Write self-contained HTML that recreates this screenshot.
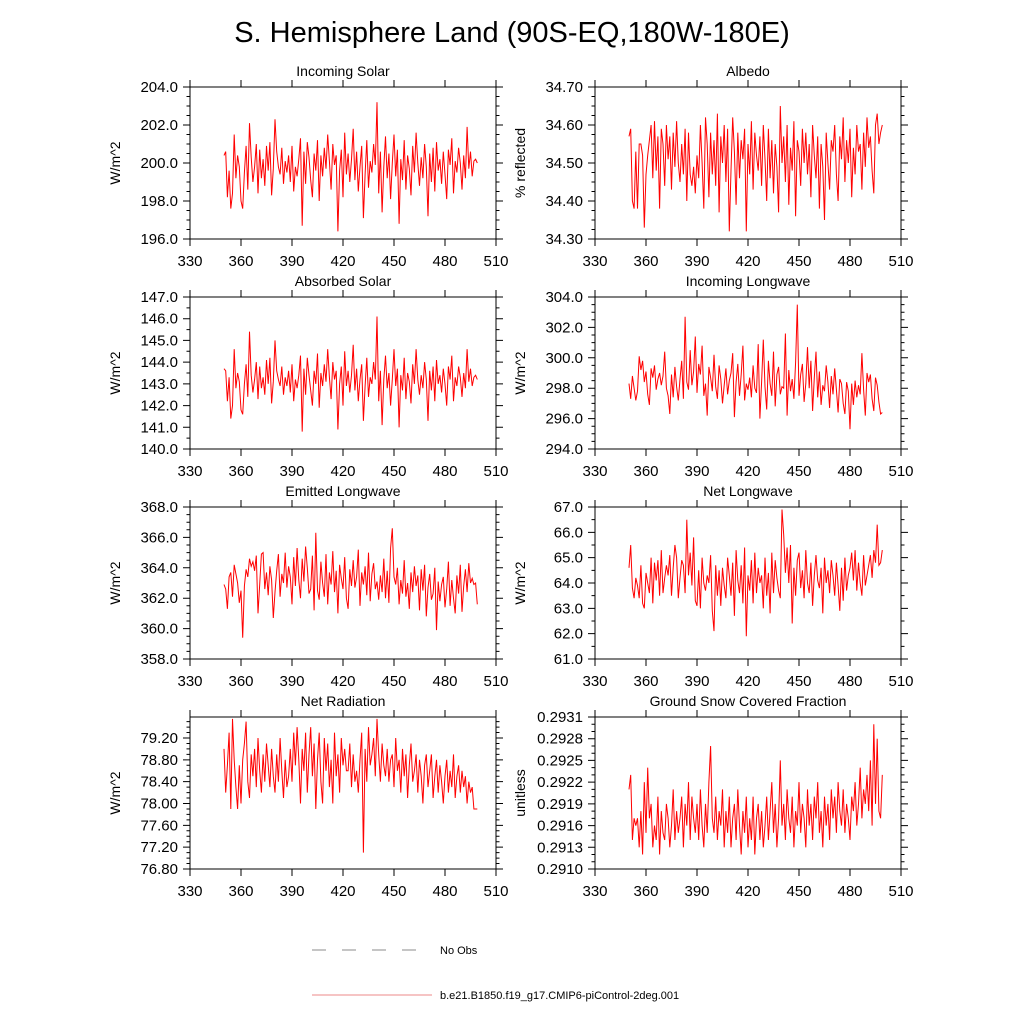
<!DOCTYPE html>
<html><head><meta charset="utf-8"><style>
body{margin:0;background:#fff}
svg text{font-family:"Liberation Sans",sans-serif;fill:#000}
</style></head><body>
<svg id="c" width="1024" height="1024" viewBox="0 0 1024 1024">
<text x="512" y="42" font-size="29" text-anchor="middle">S. Hemisphere Land (90S-EQ,180W-180E)</text>
<g>
<line x1="312" y1="950" x2="432" y2="950" stroke="#666" stroke-width="0.8" stroke-dasharray="14,16"/>
<text x="440" y="954" font-size="11">No Obs</text>
<line x1="312" y1="995" x2="432" y2="995" stroke="#e88" stroke-width="1"/>
<text x="440" y="999" font-size="11">b.e21.B1850.f19_g17.CMIP6-piControl-2deg.001</text>
</g>
</svg>
<script>
const years0 = 350;
const xTicks = [330,360,390,420,450,480,510];
const incomingSolar = [200.4,200.6,198.2,199.6,197.6,198.4,201.5,199.2,200.4,199.8,198.0,197.6,199.5,200.9,198.6,202.1,200.3,199.0,199.8,201.0,198.4,200.7,199.2,200.2,198.8,200.9,199.6,201.1,198.3,199.7,202.3,200.6,199.8,199.4,200.8,198.9,200.1,199.5,200.4,199.0,200.9,198.5,199.8,199.3,200.2,201.3,196.7,200.6,198.9,201.1,200.3,199.1,198.2,200.5,199.6,201.2,198.0,200.4,199.3,200.8,199.7,201.5,200.1,198.6,201.0,199.9,200.4,196.4,199.6,200.7,198.2,201.6,199.4,200.5,199.0,200.2,201.8,199.1,200.6,198.5,199.8,200.9,197.1,199.4,201.2,198.7,200.1,199.5,201.0,199.9,203.2,198.4,200.6,197.4,199.8,201.4,199.2,200.5,198.1,200.0,201.5,199.3,200.7,196.8,200.2,199.1,201.2,198.6,200.4,199.7,198.3,200.9,199.5,201.6,200.0,198.8,200.3,199.2,201.0,199.8,197.2,200.5,199.0,200.8,198.5,201.1,199.6,200.2,198.9,200.6,199.4,198.1,200.7,199.9,201.3,198.4,200.1,199.5,200.8,200.0,198.6,200.4,199.2,201.9,199.7,200.6,199.3,200.1,200.2,200.0];
const albedo = [34.57,34.59,34.40,34.38,34.53,34.38,34.55,34.55,34.52,34.33,34.47,34.52,34.56,34.60,34.46,34.61,34.48,34.57,34.38,34.59,34.55,34.44,34.60,34.51,34.57,34.43,34.58,34.49,34.61,34.50,34.45,34.55,34.47,34.59,34.40,34.58,34.47,34.44,34.49,34.42,34.52,34.46,34.60,34.50,34.38,34.62,34.55,34.41,34.58,34.47,34.56,34.44,34.63,34.37,34.57,34.50,34.60,34.45,34.59,34.32,34.48,34.62,34.53,34.39,34.58,34.46,34.56,34.51,34.59,34.32,34.55,34.47,34.61,34.43,34.58,34.52,34.48,34.57,34.44,34.60,34.51,34.40,34.59,34.46,34.56,34.42,34.55,34.49,34.37,34.65,34.50,34.57,34.45,34.60,34.39,34.54,34.48,34.61,34.36,34.56,34.53,34.44,34.59,34.50,34.58,34.47,34.55,34.41,34.60,34.52,34.46,34.57,34.38,34.55,34.49,34.35,34.58,34.50,34.43,34.56,34.53,34.60,34.47,34.40,34.57,34.51,34.62,34.45,34.56,34.50,34.59,34.41,34.54,34.47,34.60,34.53,34.55,34.43,34.58,34.49,34.62,34.54,34.57,34.48,34.42,34.60,34.63,34.55,34.58,34.60];
const absorbedSolar = [143.7,143.6,142.2,143.3,141.4,142.0,144.6,142.8,143.5,143.1,141.8,141.6,143.0,143.9,142.4,145.4,143.4,142.6,143.2,144.0,142.3,143.8,142.8,143.3,142.5,144.1,143.0,144.2,142.1,143.1,145.0,143.6,143.2,142.9,143.8,142.5,143.3,142.9,143.6,142.6,143.9,142.2,143.2,142.8,143.4,144.3,140.8,143.7,142.5,144.2,143.4,142.7,142.0,143.6,143.0,144.4,141.9,143.5,142.9,143.9,143.1,144.6,143.3,142.3,144.0,143.2,143.6,140.9,143.0,143.8,142.0,144.5,142.9,143.6,142.6,143.4,144.8,142.7,143.7,142.2,143.2,143.9,141.3,142.9,144.2,142.4,143.3,143.0,144.0,143.2,146.1,142.2,143.6,141.1,143.2,144.3,142.8,143.5,142.0,143.2,144.6,142.9,143.7,141.0,143.4,142.7,144.2,142.3,143.5,143.1,142.1,143.9,143.0,144.6,143.2,142.5,143.4,142.8,144.0,143.2,141.3,143.6,142.7,143.8,142.2,144.1,143.0,143.4,142.6,143.7,143.0,142.0,143.8,143.2,144.3,142.2,143.3,142.9,143.8,143.3,142.4,143.5,142.8,144.6,143.1,143.7,142.9,143.3,143.4,143.2];
const incomingLW = [298.3,297.3,298.8,298.0,297.2,297.8,300.1,299.2,299.8,298.4,299.1,297.6,296.9,299.3,298.7,299.5,297.9,298.6,299.0,298.2,298.8,300.4,298.0,297.5,296.3,298.9,297.4,299.4,298.1,297.2,298.6,299.8,297.3,302.7,298.4,297.9,300.5,298.2,299.1,301.4,297.7,299.6,298.9,300.8,297.5,298.3,296.2,299.4,298.7,297.8,300.2,298.1,297.3,299.5,298.6,297.0,298.2,299.3,297.6,298.5,299.0,300.3,296.1,298.4,299.6,297.5,298.9,300.8,297.2,298.3,297.9,298.7,297.4,299.5,298.0,297.7,300.9,296.0,298.4,301.2,298.1,296.6,299.8,298.3,297.5,300.4,296.8,298.9,299.4,297.6,298.1,298.0,301.6,296.2,299.2,297.8,298.6,297.3,299.7,303.5,297.5,298.9,299.6,297.1,298.3,300.7,298.0,299.8,296.5,298.7,300.4,297.4,299.1,296.9,298.2,297.8,299.5,298.4,296.7,298.8,297.6,299.3,297.9,296.4,298.6,298.3,297.0,296.3,298.4,297.8,295.3,298.3,296.9,298.5,297.4,298.2,297.6,300.3,297.9,296.2,299.0,298.4,298.9,297.3,296.5,298.7,298.2,297.1,296.3,296.4];
const emittedLW = [362.9,362.6,361.3,363.4,363.7,362.1,364.2,363.6,363.0,361.7,362.5,359.4,362.8,363.9,363.4,364.6,364.1,364.4,363.8,364.8,361.0,362.9,364.9,365.0,362.6,363.7,362.2,364.1,363.2,360.7,362.4,363.8,364.9,362.1,363.6,363.0,365.0,362.7,364.1,363.4,361.6,364.7,362.8,365.3,363.2,362.0,364.6,363.1,365.4,364.0,362.3,362.6,364.8,361.2,366.3,362.5,361.9,364.4,363.0,362.1,364.9,361.6,363.7,362.9,365.1,362.4,363.8,361.0,364.2,363.3,362.6,364.7,362.0,361.3,363.9,362.8,364.5,362.7,363.4,365.2,361.5,363.7,362.9,364.1,362.2,365.0,361.8,363.6,364.3,362.6,363.1,361.9,363.5,362.4,364.6,362.0,363.8,361.7,365.3,366.6,363.4,362.9,364.0,361.6,363.2,362.3,364.5,362.1,363.0,361.3,363.7,362.4,364.1,362.8,363.5,361.2,363.9,362.5,364.2,360.8,362.7,363.6,361.9,362.3,364.0,359.9,363.1,361.8,362.9,363.4,361.4,362.6,364.4,361.5,363.2,362.0,361.0,363.5,362.3,364.2,361.1,362.8,363.9,362.4,364.3,363.0,363.3,362.9,363.0,361.6];
const netLW = [64.6,65.5,63.8,63.4,64.2,63.9,63.4,64.7,63.2,63.0,64.4,64.0,63.6,65.0,63.2,64.8,64.1,64.9,63.5,65.3,63.6,64.2,64.7,64.3,65.1,63.5,64.6,65.5,65.0,63.4,64.2,64.9,64.7,63.6,66.5,64.3,65.2,63.9,65.8,63.3,63.1,64.5,63.0,65.0,64.0,63.7,64.3,64.0,65.1,62.9,62.1,64.7,63.5,64.5,63.1,64.6,63.9,63.4,65.0,64.3,63.5,64.8,62.7,65.3,64.1,63.6,64.7,63.2,65.4,61.9,64.3,63.7,64.9,63.2,65.2,63.6,64.6,64.0,64.3,63.0,65.0,63.5,64.4,62.8,65.2,63.6,64.9,64.2,63.7,63.4,66.9,65.9,64.4,65.4,64.0,65.5,62.4,64.6,63.5,64.9,65.2,63.8,64.5,63.4,65.3,64.0,63.6,64.8,63.1,64.3,65.1,64.1,63.8,64.6,62.8,65.0,64.0,64.5,63.6,64.9,64.3,63.5,64.8,63.9,62.9,64.6,63.3,65.0,63.7,64.3,64.6,65.2,64.1,65.3,63.7,64.8,64.0,63.5,65.1,63.9,64.3,64.7,65.1,64.2,65.3,64.8,66.3,64.7,64.8,65.3];
const netRad = [79.0,78.2,78.7,79.3,77.9,79.55,78.8,78.3,77.9,78.7,78.0,78.8,79.1,79.5,78.4,78.1,78.9,78.5,79.0,78.3,79.2,78.6,78.2,78.9,78.4,79.1,78.7,78.3,79.0,78.5,78.2,78.9,78.4,79.2,78.6,78.1,78.8,78.3,78.5,79.0,78.4,79.3,78.7,79.4,78.8,78.0,79.0,78.6,79.3,78.2,78.9,79.4,78.5,79.1,77.9,78.8,79.3,78.4,78.0,79.2,78.6,79.1,78.3,78.8,78.0,79.3,78.5,78.9,78.2,79.2,78.7,79.0,78.6,78.6,79.1,78.3,78.9,78.4,78.6,78.2,78.8,79.3,77.1,79.0,78.4,79.4,78.7,78.9,79.2,78.5,79.55,78.9,78.4,79.1,78.7,78.5,79.0,78.4,78.8,78.9,78.3,79.2,78.6,78.8,78.2,79.0,78.5,78.9,78.1,78.7,79.1,78.4,78.6,78.9,78.2,78.8,78.5,78.0,78.7,78.9,78.3,78.6,78.9,78.1,78.5,78.8,78.2,78.7,78.4,78.0,78.5,78.8,78.2,78.6,78.3,78.9,78.1,78.5,78.7,78.2,78.6,78.3,78.5,78.0,78.4,78.2,78.3,77.9,77.9,77.9];
const snowFrac = [0.2921,0.2923,0.2914,0.2917,0.2916,0.2917,0.2913,0.2918,0.2912,0.2922,0.2915,0.2924,0.2917,0.2919,0.2913,0.2916,0.2914,0.2920,0.2912,0.2918,0.2915,0.2914,0.2919,0.2917,0.2913,0.2916,0.2921,0.2914,0.2918,0.2915,0.2917,0.2920,0.2913,0.2919,0.2916,0.2922,0.2914,0.2920,0.2917,0.2915,0.2919,0.2914,0.2921,0.2916,0.2913,0.2919,0.2915,0.2922,0.2927,0.2917,0.2915,0.2920,0.2914,0.2918,0.2916,0.2921,0.2913,0.2918,0.2915,0.2920,0.2913,0.2917,0.2919,0.2914,0.2921,0.2916,0.2912,0.2918,0.2915,0.2920,0.2913,0.2917,0.2914,0.2920,0.2912,0.2917,0.2919,0.2914,0.2918,0.2913,0.2916,0.2920,0.2914,0.2918,0.2922,0.2915,0.2919,0.2913,0.2917,0.2925,0.2916,0.2919,0.2914,0.2921,0.2917,0.2915,0.2920,0.2913,0.2918,0.2916,0.2922,0.2915,0.2919,0.2917,0.2913,0.2921,0.2916,0.2919,0.2914,0.2920,0.2917,0.2922,0.2915,0.2918,0.2913,0.2920,0.2916,0.2919,0.2914,0.2921,0.2917,0.2920,0.2915,0.2922,0.2918,0.2916,0.2921,0.2915,0.2919,0.2917,0.2914,0.2920,0.2918,0.2922,0.2916,0.2919,0.2924,0.2917,0.2921,0.2919,0.2923,0.2918,0.2925,0.2916,0.2930,0.2919,0.2928,0.2918,0.2917,0.2923];
const ticks1 = [196,198,200,202,204];
const ticks2 = [34.3,34.4,34.5,34.6,34.7];
const ticks3 = [140,141,142,143,144,145,146,147];
const ticks4 = [294,296,298,300,302,304];
const ticks5 = [358,360,362,364,366,368];
const ticks6 = [61,62,63,64,65,66,67];
const ticks7 = [76.8,77.2,77.6,78.0,78.4,78.8,79.2];
const ticks8 = [0.2910,0.2913,0.2916,0.2919,0.2922,0.2925,0.2928,0.2931];

const NS='http://www.w3.org/2000/svg';
const svg=document.getElementById('c');
function mk(tag,attrs,parent){const e=document.createElementNS(NS,tag);for(const k in attrs)e.setAttribute(k,attrs[k]);parent.appendChild(e);return e;}
const panels=[
 {key:'incoming-solar',title:'Incoming Solar',yl:'W/m^2',data:incomingSolar,ticks:ticks1,ymin:196,ymax:204,minor:4,dec:1,x0:190,y0:87},
 {key:'albedo',title:'Albedo',yl:'% reflected',data:albedo,ticks:ticks2,ymin:34.3,ymax:34.7,minor:4,dec:2,x0:595,y0:87},
 {key:'absorbed-solar',title:'Absorbed Solar',yl:'W/m^2',data:absorbedSolar,ticks:ticks3,ymin:140,ymax:147,minor:2,dec:1,x0:190,y0:297},
 {key:'incoming-longwave',title:'Incoming Longwave',yl:'W/m^2',data:incomingLW,ticks:ticks4,ymin:294,ymax:304,minor:4,dec:1,x0:595,y0:297},
 {key:'emitted-longwave',title:'Emitted Longwave',yl:'W/m^2',data:emittedLW,ticks:ticks5,ymin:358,ymax:368,minor:4,dec:1,x0:190,y0:507},
 {key:'net-longwave',title:'Net Longwave',yl:'W/m^2',data:netLW,ticks:ticks6,ymin:61,ymax:67,minor:2,dec:1,x0:595,y0:507},
 {key:'net-radiation',title:'Net Radiation',yl:'W/m^2',data:netRad,ticks:ticks7,ymin:76.8,ymax:79.585,minor:4,dec:2,x0:190,y0:717},
 {key:'snow-fraction',title:'Ground Snow Covered Fraction',yl:'unitless',data:snowFrac,ticks:ticks8,ymin:0.2910,ymax:0.2931,minor:3,dec:4,x0:595,y0:717}
];
const W=306,H=152;
panels.forEach(p=>{
 const g=mk('g',{},svg);
 
 
 const xs=v=>p.x0+(v-330)/180*W;
 const ys=v=>p.y0+H-(v-p.ymin)/(p.ymax-p.ymin)*H;
 const t=mk('text',{x:p.x0+W/2,y:p.y0-11,'font-size':14,'text-anchor':'middle'},g);
 t.textContent=p.title;
 
 
 const yl=mk('text',{x:0,y:0,'font-size':14,'text-anchor':'middle',transform:`translate(${p.x0-70},${p.y0+H/2}) rotate(-90)`},g);
 yl.textContent=p.yl;
 
 
 let path='';
 xTicks.forEach(v=>{const x=xs(v);path+=`M${x},${p.y0+H}v7M${x},${p.y0}v-7`;
  const tx=mk('text',{x:x,y:p.y0+H+27,'font-size':15,'text-anchor':'middle'},g);tx.textContent=v;
  
  });
 const step=p.ticks[1]-p.ticks[0];
 p.ticks.forEach((v,i)=>{const y=ys(v);path+=`M${p.x0},${y}h-7M${p.x0+W},${y}h7`;
  const ty=mk('text',{x:p.x0-12,y:y+5,'font-size':15,'text-anchor':'end'},g);ty.textContent=v.toFixed(p.dec);
  
  
  for(let k=1;k<p.minor;k++){const vv=v+step*k/p.minor;if(vv<=p.ymax+1e-9){const yy=ys(vv);path+=`M${p.x0},${yy}h-3.5M${p.x0+W},${yy}h3.5`;}}
 });
 const ax=mk('path',{d:path+`M${p.x0},${p.y0}h${W}v${H}h${-W}z`,fill:'none',stroke:'#000','stroke-width':1},g);
 
 
 const pts=p.data.map((v,i)=>xs(years0+i).toFixed(1)+','+ys(v).toFixed(1)).join(' ');
 const ln=mk('polyline',{points:pts,fill:'none',stroke:'#f00','stroke-width':1},g);
 
 
});
</script>
</body></html>
